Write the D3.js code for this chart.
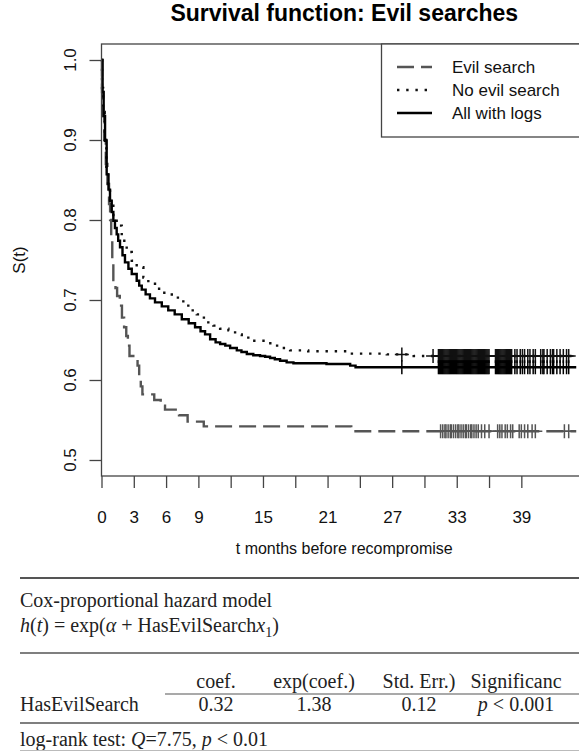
<!DOCTYPE html>
<html>
<head>
<meta charset="utf-8">
<script src="https://cdn.jsdelivr.net/npm/d3@7"></script>
<style>
  html, body { margin: 0; padding: 0; background: #fff; }
  svg { display: block; }
</style>
</head>
<body>
<svg id="chart" width="579" height="751"></svg>
<script>
// ---- Kaplan–Meier estimates (time in months, survival probability) ----
const evilTime = [0, 0.05, 0.15, 0.25, 0.4, 0.55, 0.7, 0.8, 0.9, 1.0, 1.1, 1.3, 1.45, 1.7, 1.9, 2.1, 2.3, 2.45, 2.6, 3.35, 3.5, 3.65, 3.8, 4.9, 5.5, 5.9, 7.2, 8.0, 9.5, 23.2];
const evilSurv = [1.0, 0.96, 0.93, 0.90, 0.87, 0.845, 0.82, 0.80, 0.775, 0.745, 0.725, 0.715, 0.705, 0.693, 0.678, 0.666, 0.655, 0.643, 0.630, 0.618, 0.605, 0.592, 0.582, 0.575, 0.568, 0.563, 0.556, 0.548, 0.542, 0.536];

const noEvilTime = [0, 0.05, 0.15, 0.3, 0.45, 0.6, 0.79, 1.1, 1.41, 1.88, 2.34, 2.81, 3.27, 3.89, 4.35, 4.97, 5.6, 6.53, 7.6, 8.23, 8.85, 9.31, 9.78, 10.39, 11.02, 11.79, 12.41, 13.03, 13.8, 15.2, 15.97, 16.75, 17.52, 19.2, 22.8, 26.5, 29.0];
const noEvilSurv = [1.0, 0.965, 0.935, 0.90, 0.865, 0.84, 0.82, 0.803, 0.793, 0.774, 0.76, 0.749, 0.741, 0.728, 0.722, 0.714, 0.709, 0.703, 0.693, 0.687, 0.682, 0.678, 0.672, 0.668, 0.664, 0.662, 0.657, 0.653, 0.649, 0.646, 0.643, 0.640, 0.637, 0.636, 0.633, 0.632, 0.630];

const allTime = [0, 0.1, 0.2, 0.33, 0.48, 0.65, 0.79, 0.95, 1.1, 1.25, 1.41, 1.55, 1.72, 1.95, 2.18, 2.5, 2.81, 3.27, 3.5, 3.74, 4.1, 4.5, 4.97, 5.6, 6.2, 6.8, 7.46, 8.1, 8.69, 9.2, 9.62, 10.09, 10.6, 11.02, 11.5, 11.95, 12.57, 13.0, 13.5, 14.1, 14.73, 15.2, 15.66, 16.1, 16.59, 17.2, 17.83, 20.9, 23.1, 23.6];
const allSurv = [1.0, 0.96, 0.93, 0.899, 0.857, 0.838, 0.824, 0.81, 0.799, 0.79, 0.782, 0.774, 0.766, 0.756, 0.747, 0.739, 0.7325, 0.724, 0.718, 0.713, 0.707, 0.702, 0.697, 0.692, 0.687, 0.682, 0.676, 0.671, 0.666, 0.661, 0.657, 0.651, 0.647, 0.645, 0.643, 0.640, 0.637, 0.635, 0.6325, 0.631, 0.630, 0.629, 0.6275, 0.626, 0.624, 0.622, 0.621, 0.620, 0.618, 0.616];

const lastFollowUp = 44.1;

// censoring times (months)
const evilCensor = [31.5, 31.7, 31.9, 32.0, 32.2, 32.4, 32.5, 32.7, 32.9, 33.1, 33.2, 33.4, 33.6, 33.8, 33.9, 34.1, 34.3, 34.4, 34.6, 34.8, 35.0, 35.3, 35.6, 36.0, 36.8, 37.0, 37.2, 37.5, 37.7, 38.0, 38.2, 38.8, 39.0, 39.3, 39.6, 40.0, 40.3, 43.0, 43.4];
const noEvilCensor = [27.9, 30.8, 31.3, 31.4, 31.5, 31.6, 31.7, 31.8, 31.9, 32.0, 32.1, 32.2, 32.3, 32.4, 32.5, 32.6, 32.7, 32.8, 32.9, 33.0, 33.1, 33.2, 33.3, 33.4, 33.5, 33.6, 33.7, 33.8, 33.9, 34.0, 34.1, 34.2, 34.3, 34.4, 34.5, 34.6, 34.7, 34.8, 34.9, 35.0, 35.1, 35.2, 35.3, 35.4, 35.5, 35.6, 35.7, 35.8, 35.9, 36.0, 36.6, 36.7, 36.8, 36.9, 37.0, 37.1, 37.2, 37.3, 37.4, 37.5, 37.6, 37.7, 37.8, 37.9, 38.0, 38.1, 38.4, 38.6, 38.9, 39.1, 39.3, 39.6, 39.8, 40.1, 40.3, 40.8, 41.0, 41.1, 41.4, 41.7, 41.9, 42.0, 42.3, 42.6, 42.9, 43.2, 43.4];
const allCensor = [27.9, 31.3, 31.4, 31.5, 31.6, 31.7, 31.8, 31.9, 32.0, 32.1, 32.2, 32.3, 32.4, 32.5, 32.6, 32.7, 32.8, 32.9, 33.0, 33.1, 33.2, 33.3, 33.4, 33.5, 33.6, 33.7, 33.8, 33.9, 34.0, 34.1, 34.2, 34.3, 34.4, 34.5, 34.6, 34.7, 34.8, 34.9, 35.0, 35.1, 35.2, 35.3, 35.4, 35.5, 35.6, 35.7, 35.8, 35.9, 36.0, 36.6, 36.7, 36.8, 36.9, 37.0, 37.1, 37.2, 37.3, 37.4, 37.5, 37.6, 37.7, 37.8, 37.9, 38.0, 38.1, 38.4, 38.6, 38.9, 39.1, 39.3, 39.6, 39.8, 40.1, 40.3, 40.8, 41.0, 41.1, 41.4, 41.7, 41.9, 42.0, 42.3, 42.6, 42.9, 43.2, 43.4];

// axis ticks and labels
const xTicks = [0, 3, 6, 9, 12, 15, 18, 21, 24, 27, 30, 33, 36, 39];
const xTickLabels = [0, 3, 6, 9, 15, 21, 27, 33, 39];
const yTicks = [0.5, 0.6, 0.7, 0.8, 0.9, 1.0];

const legendLabels = ["Evil search", "No evil search", "All with logs"];

// Cox model table
const coxHeader = ["coef.", "exp(coef.)", "Std. Err.)", "Significanc"];
const coxRowName = "HasEvilSearch";
const coxValues = ["0.32", "1.38", "0.12"];
const coxSignif = "0.001";
const logRankQ = "7.75";
const logRankP = "0.01";

// ---- drawing ----
const SANS = "'Liberation Sans', Arial, Helvetica, sans-serif";
const SERIF = "'Liberation Serif', 'Times New Roman', serif";

const svg = d3.select("#chart");
const plot = { left: 101.5, right: 587, top: 44, bottom: 476 };

const x = d3.scaleLinear().domain([0, 45.1]).range([plot.left, plot.right]);
const y = d3.scaleLinear().domain([0.48, 1.02]).range([plot.bottom, plot.top]);

const styles = {
  evil:   { stroke: "#555", width: 2.4, dash: "17,7" },
  noEvil: { stroke: "#111", width: 2.4, dash: "2.4,6.8" },
  all:    { stroke: "#000", width: 2.4, dash: null }
};

// title
svg.append("text")
  .attr("x", (plot.left + plot.right) / 2).attr("y", 21)
  .attr("text-anchor", "middle")
  .style("font-family", SANS).style("font-weight", "bold").style("font-size", "23px")
  .text("Survival function: Evil searches");

// KM step curves
const stepLine = d3.line().x(d => x(d[0])).y(d => y(d[1])).curve(d3.curveStepAfter);
function curvePoints(times, surv) {
  const pts = times.map((t, i) => [t, surv[i]]);
  pts.push([lastFollowUp, surv[surv.length - 1]]);
  return pts;
}
function survAt(times, surv, t) {
  return surv[d3.bisectRight(times, t) - 1];
}

const series = [
  { times: evilTime, surv: evilSurv, censor: evilCensor, st: styles.evil, markColor: "#555" },
  { times: noEvilTime, surv: noEvilSurv, censor: noEvilCensor, st: styles.noEvil, markColor: "#111" },
  { times: allTime, surv: allSurv, censor: allCensor, st: styles.all, markColor: "#000" }
];

series.forEach(s => {
  svg.append("path")
    .attr("d", stepLine(curvePoints(s.times, s.surv)))
    .attr("fill", "none")
    .attr("stroke", s.st.stroke)
    .attr("stroke-width", s.st.width)
    .attr("stroke-dasharray", s.st.dash)
    .attr("stroke-linecap", "butt");
  svg.append("g").selectAll("path")
    .data(s.censor)
    .join("path")
    .attr("d", t => {
      const cx = x(t), cy = y(survAt(s.times, s.surv, t));
      return `M${cx - 7},${cy}H${cx + 7}M${cx},${cy - 7}V${cy + 7}`;
    })
    .attr("stroke", s.markColor)
    .attr("stroke-width", 1.5)
    .attr("fill", "none");
});

// frame
svg.append("rect")
  .attr("x", plot.left).attr("y", plot.top)
  .attr("width", plot.right - plot.left).attr("height", plot.bottom - plot.top)
  .attr("fill", "none").attr("stroke", "#444").attr("stroke-width", 1.3);

// x axis
const xAxis = d3.axisBottom(x)
  .tickValues(xTicks)
  .tickSize(12)
  .tickPadding(23)
  .tickFormat(d => xTickLabels.includes(d) ? String(d) : "");
const gx = svg.append("g").attr("transform", `translate(0,${plot.bottom})`).call(xAxis);
gx.select(".domain").remove();
gx.selectAll(".tick line").attr("stroke", "#444").attr("stroke-width", 1.3);
gx.selectAll(".tick text").style("font-family", SANS).style("font-size", "17px").attr("fill", "#111");

// y axis
const yAxis = d3.axisLeft(y).tickValues(yTicks).tickSize(12).tickFormat("");
const gy = svg.append("g").attr("transform", `translate(${plot.left},0)`).call(yAxis);
gy.select(".domain").remove();
gy.selectAll(".tick line").attr("stroke", "#444").attr("stroke-width", 1.3);
svg.append("g").selectAll("text")
  .data(yTicks)
  .join("text")
  .attr("transform", d => `translate(76,${y(d)}) rotate(-90)`)
  .attr("text-anchor", "middle")
  .style("font-family", SANS).style("font-size", "17px").attr("fill", "#111")
  .text(d3.format(".1f"));

// axis titles
svg.append("text")
  .attr("transform", `translate(25,${(plot.top + plot.bottom) / 2}) rotate(-90)`)
  .attr("text-anchor", "middle")
  .style("font-family", SANS).style("font-size", "17px").attr("fill", "#111")
  .text("S(t)");
svg.append("text")
  .attr("x", (plot.left + plot.right) / 2).attr("y", 554)
  .attr("text-anchor", "middle")
  .style("font-family", SANS).style("font-size", "16px").attr("fill", "#111")
  .text("t months before recompromise");

// legend
const leg = svg.append("g");
leg.append("rect")
  .attr("x", 381.5).attr("y", plot.top)
  .attr("width", 240).attr("height", 93)
  .attr("fill", "#fff").attr("stroke", "#444").attr("stroke-width", 1.3);
[styles.evil, styles.noEvil, styles.all].forEach((st, i) => {
  const cy = 67 + i * 23;
  leg.append("line")
    .attr("x1", 397).attr("x2", 432).attr("y1", cy).attr("y2", cy)
    .attr("stroke", st.stroke).attr("stroke-width", st.width)
    .attr("stroke-dasharray", st.dash);
  leg.append("text")
    .attr("x", 452).attr("y", cy + 6)
    .style("font-family", SANS).style("font-size", "17px").attr("fill", "#111")
    .text(legendLabels[i]);
});

// ---- Cox model table ----
const tbl = svg.append("g").style("font-family", SERIF).style("font-size", "20px").attr("fill", "#222");
function rule(yPos, w, col) {
  tbl.append("line").attr("x1", 20).attr("x2", 579).attr("y1", yPos).attr("y2", yPos)
    .attr("stroke", col).attr("stroke-width", w);
}
function rich(xPos, yPos, parts, anchor) {
  const t = tbl.append("text").attr("x", xPos).attr("y", yPos).attr("text-anchor", anchor || "start");
  parts.forEach(p => {
    const ts = t.append("tspan").text(p.s);
    if (p.i) ts.style("font-style", "italic");
    if (p.sub) ts.attr("dy", 5).style("font-size", "14px");
    if (p.up) ts.attr("dy", -5);
  });
  return t;
}

rule(578, 2, "#555");
rich(20, 607, [{ s: "Cox-proportional hazard model" }]);
rich(20, 632, [
  { s: "h", i: true }, { s: "(" }, { s: "t", i: true }, { s: ") = exp(" },
  { s: "α", i: true }, { s: " + HasEvilSearch" }, { s: "x", i: true },
  { s: "1", sub: true }, { s: ")", up: true }
]);
rule(653, 1.6, "#555");

// column centres shared by header and values
const colCenters = [216, 314, 419, 516];
coxHeader.forEach((h, i) => rich(colCenters[i], 688, [{ s: h }], "middle"));
tbl.append("line").attr("x1", 165).attr("x2", 579).attr("y1", 694).attr("y2", 694)
  .attr("stroke", "#555").attr("stroke-width", 1.2);

rich(20, 711, [{ s: coxRowName }]);
coxValues.forEach((v, i) => rich(colCenters[i], 711, [{ s: v }], "middle"));
rich(colCenters[3], 711, [{ s: "p", i: true }, { s: " < " + coxSignif }], "middle");
rule(723, 1.6, "#555");

rich(20, 746, [
  { s: "log-rank test: " }, { s: "Q", i: true }, { s: "=" + logRankQ + ", " },
  { s: "p", i: true }, { s: " < " + logRankP }
]);
rule(750.5, 1, "#bbb");
</script>
</body>
</html>
